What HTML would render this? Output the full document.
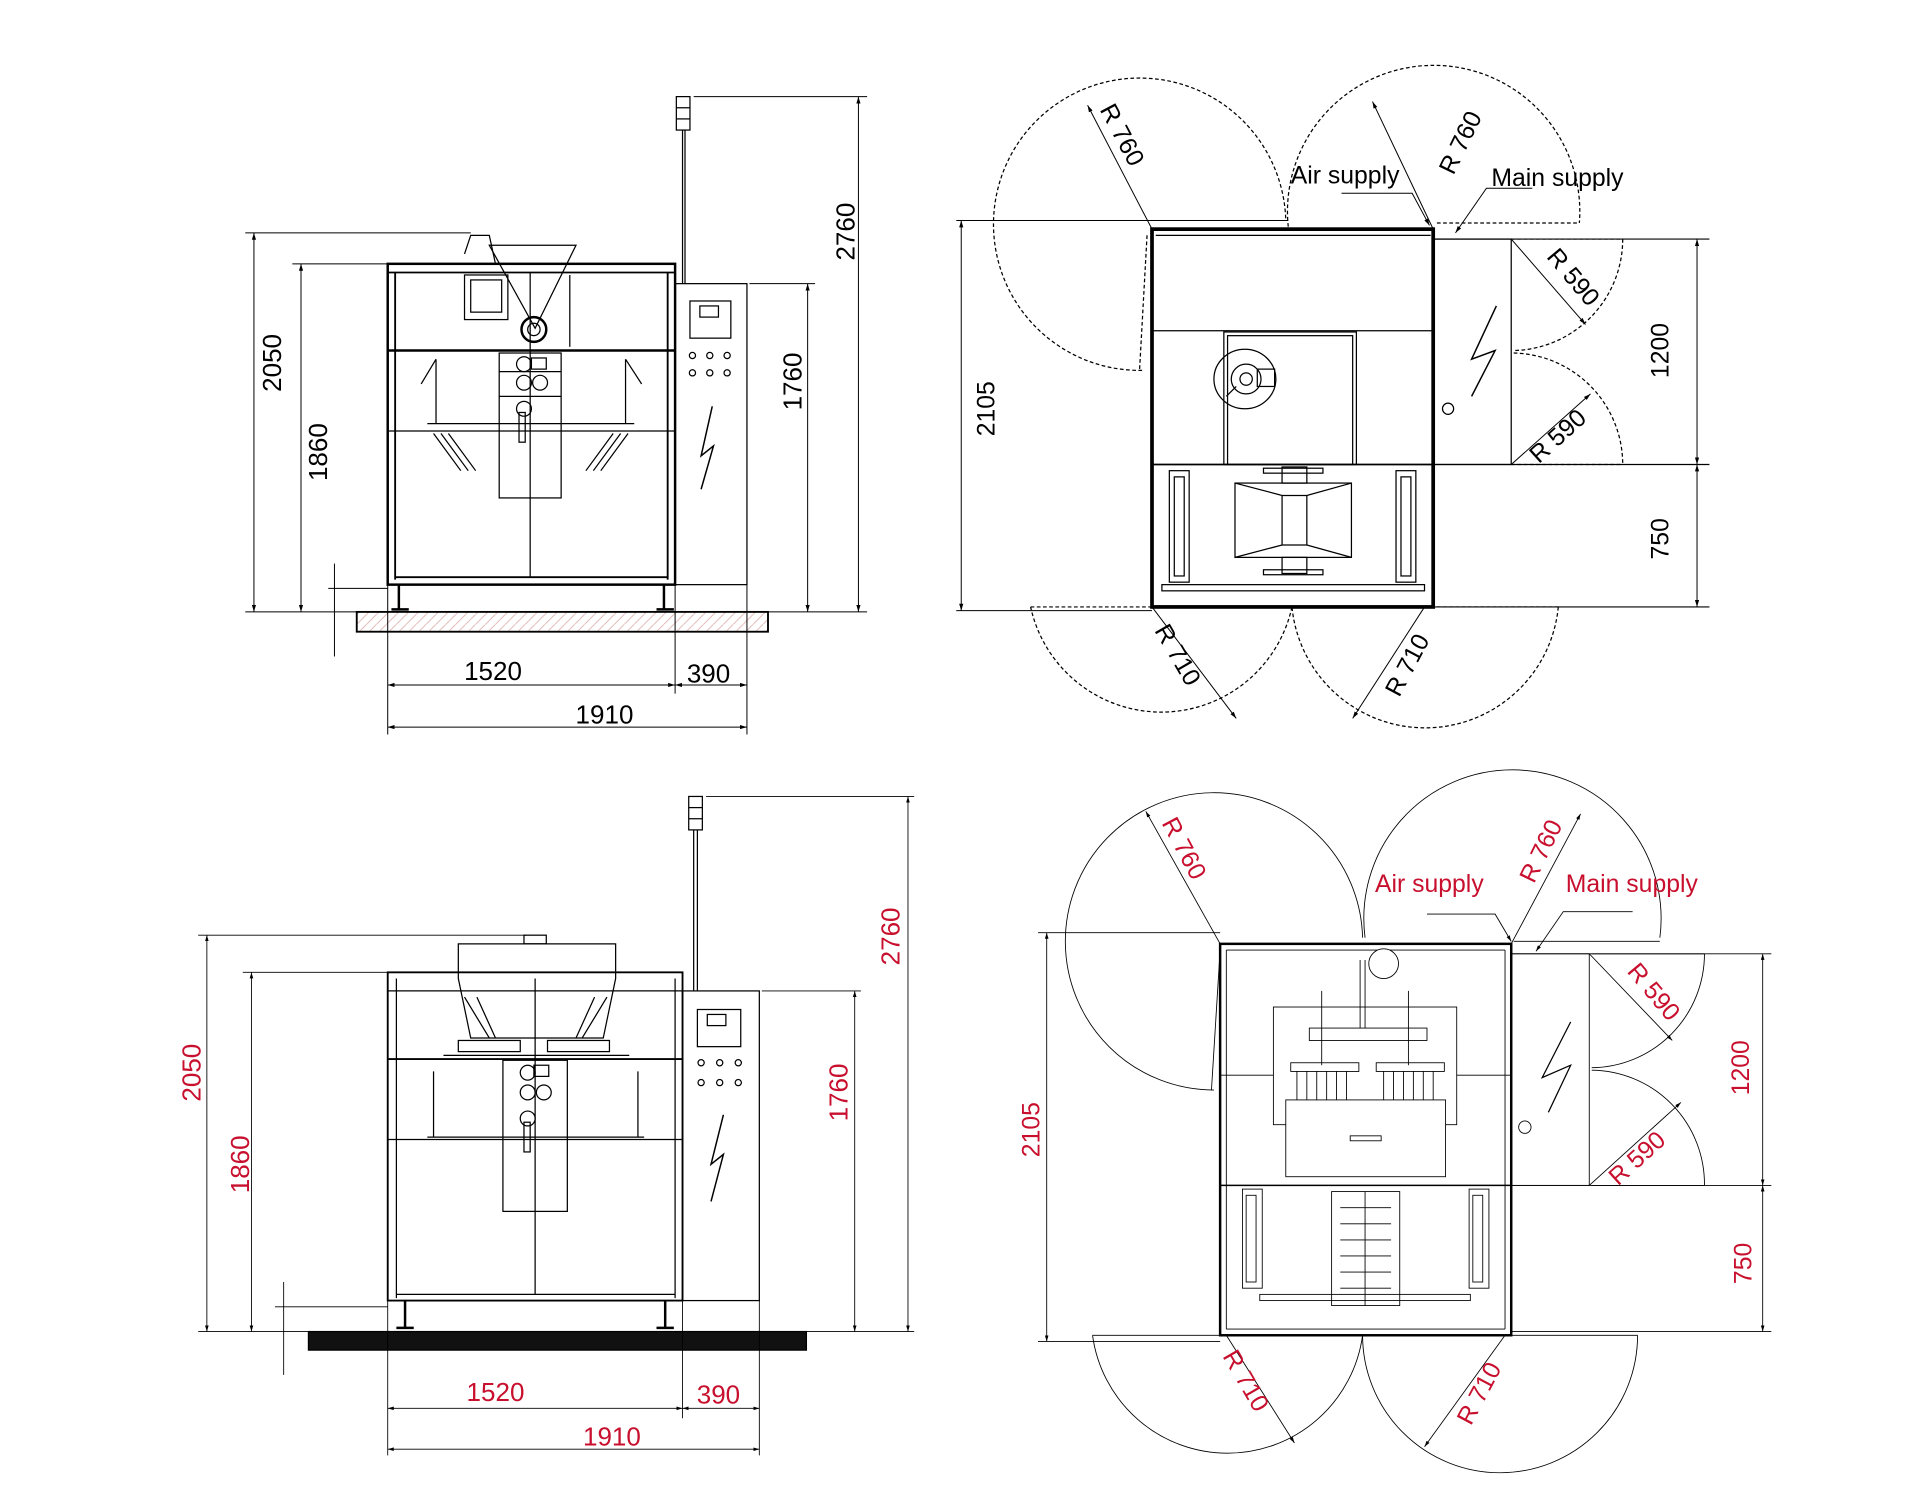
<!DOCTYPE html>
<html><head><meta charset="utf-8"><style>
html,body{margin:0;padding:0;background:#fff;}
svg{display:block;}
text{font-family:"Liberation Sans",sans-serif;}
</style></head><body>
<svg width="1920" height="1500" viewBox="0 0 1550 1211" preserveAspectRatio="none" xmlns="http://www.w3.org/2000/svg">
<defs>
<marker id="a" viewBox="0 0 10 10" refX="10" refY="5" markerWidth="7" markerHeight="7" orient="auto-start-reverse"><path d="M0,2 L10,5 L0,8z" fill="#000"/></marker>
<pattern id="h" width="8" height="8" patternUnits="userSpaceOnUse"><path d="M0,8 L8,0" stroke="#d9a0a0" stroke-width="0.6"/></pattern>
</defs>

<!-- ===== TOP LEFT FRONT VIEW ===== -->
<g stroke="#000" fill="none" stroke-width="1">
<rect x="288" y="494" width="332" height="16" fill="url(#h)" stroke-width="1.5"/>
<rect x="313" y="213" width="232" height="259" stroke-width="2"/>
<line x1="319" y1="220" x2="319" y2="468" stroke-width="1.5"/><line x1="539" y1="220" x2="539" y2="468" stroke-width="1.5"/>
<line x1="313" y1="220" x2="545" y2="220" stroke-width="1.5"/>
<line x1="313" y1="283" x2="545" y2="283" stroke-width="2"/>
<line x1="313" y1="348" x2="545" y2="348"/>
<line x1="319" y1="466" x2="539" y2="466" stroke-width="1.5"/>
<line x1="428" y1="220" x2="428" y2="466"/>
<rect x="375" y="222" width="35" height="36"/><rect x="380" y="226" width="25" height="26"/>
<line x1="460" y1="222" x2="460" y2="280"/>
<path d="M395,198 L465,198 L432,265 Z"/>
<circle cx="431" cy="266" r="10" stroke-width="2"/><circle cx="431" cy="266" r="5"/>
<path d="M375,205 L380,190 L395,190 L400,213 M367,213 L400,213"/>
<rect x="403" y="285" width="50" height="117"/>
<circle cx="423" cy="294" r="6"/><circle cx="423" cy="309" r="6"/><circle cx="436" cy="309" r="6"/><circle cx="423" cy="330" r="6"/>
<rect x="429" y="289" width="12" height="9"/>
<line x1="403" y1="300" x2="453" y2="300"/><line x1="403" y1="320" x2="453" y2="320"/>
<rect x="419" y="333" width="5" height="24"/>
<path d="M345,342 L512,342 M352,290 L340,310 M505,290 L518,310 M352,290 L352,342 M505,290 L505,342"/>
<path d="M350,350 L372,380 M356,350 L378,380 M362,350 L384,380 M495,350 L473,380 M501,350 L479,380 M507,350 L485,380"/>
<rect x="545" y="229" width="58" height="243"/>
<rect x="557" y="243" width="33" height="30"/><rect x="565" y="247" width="15" height="9"/>
<circle cx="559" cy="287" r="2.5"/><circle cx="573" cy="287" r="2.5"/><circle cx="587" cy="287" r="2.5"/>
<circle cx="559" cy="301" r="2.5"/><circle cx="573" cy="301" r="2.5"/><circle cx="587" cy="301" r="2.5"/>
<path d="M575,328 L566,368 L576,360 L566,395" stroke-width="1.2"/>
<line x1="551" y1="105" x2="551" y2="229"/><line x1="553" y1="105" x2="553" y2="229"/>
<rect x="546" y="78" width="11" height="27"/><line x1="546" y1="87" x2="557" y2="87"/><line x1="546" y1="96" x2="557" y2="96"/>
<path d="M322,472 L322,492 M316,492 L330,492 M536,472 L536,492 M530,492 L544,492" stroke-width="2"/>
<!-- dims -->
<g stroke-width="0.8">
<line x1="198" y1="188" x2="380" y2="188"/><line x1="236" y1="213" x2="313" y2="213"/>
<line x1="198" y1="494" x2="288" y2="494"/>
<line x1="205" y1="188" x2="205" y2="494" marker-start="url(#a)" marker-end="url(#a)"/>
<line x1="243" y1="213" x2="243" y2="494" marker-start="url(#a)" marker-end="url(#a)"/>
<line x1="605" y1="229" x2="658" y2="229"/><line x1="560" y1="78" x2="700" y2="78"/><line x1="620" y1="494" x2="700" y2="494"/>
<line x1="652" y1="229" x2="652" y2="494" marker-start="url(#a)" marker-end="url(#a)"/>
<line x1="693" y1="78" x2="693" y2="494" marker-start="url(#a)" marker-end="url(#a)"/>
<line x1="270" y1="455" x2="270" y2="530"/><line x1="265" y1="475" x2="313" y2="475"/>
<line x1="313" y1="472" x2="313" y2="593"/><line x1="545" y1="472" x2="545" y2="560"/><line x1="603" y1="472" x2="603" y2="593"/>
<line x1="313" y1="553" x2="545" y2="553" marker-start="url(#a)" marker-end="url(#a)"/>
<line x1="545" y1="553" x2="603" y2="553" marker-start="url(#a)" marker-end="url(#a)"/>
<line x1="313" y1="587" x2="603" y2="587" marker-start="url(#a)" marker-end="url(#a)"/>
</g></g>
<g font-size="21" fill="#000">
<text transform="translate(227,293) rotate(-90)" text-anchor="middle">2050</text>
<text transform="translate(264,365) rotate(-90)" text-anchor="middle">1860</text>
<text transform="translate(647,308) rotate(-90)" text-anchor="middle">1760</text>
<text transform="translate(690,187) rotate(-90)" text-anchor="middle">2760</text>
<text x="398" y="549" text-anchor="middle">1520</text>
<text x="572" y="551" text-anchor="middle">390</text>
<text x="488" y="584" text-anchor="middle">1910</text>
</g>

<!-- ===== BOTTOM LEFT FRONT VIEW ===== -->
<g stroke="#000" fill="none" stroke-width="1">
<rect x="249" y="1075" width="402" height="15" fill="#111"/>
<rect x="313" y="785" width="238" height="265" stroke-width="1.5"/>
<line x1="320" y1="790" x2="320" y2="1048"/><line x1="545" y1="790" x2="545" y2="1048"/>
<line x1="313" y1="800" x2="551" y2="800"/>
<line x1="313" y1="855" x2="551" y2="855" stroke-width="1.5"/>
<line x1="313" y1="920" x2="551" y2="920"/>
<line x1="320" y1="1045" x2="545" y2="1045"/>
<line x1="432" y1="790" x2="432" y2="1045"/>
<path d="M370,762 L497,762 L497,790 L487,838 L380,838 L370,790 Z"/>
<path d="M375,805 L395,838 M385,805 L400,838 M480,805 L465,838 M490,805 L470,838"/>
<rect x="423" y="755" width="18" height="7"/>
<rect x="370" y="840" width="50" height="9"/><rect x="442" y="840" width="50" height="9"/>
<line x1="358" y1="852" x2="508" y2="852"/>
<rect x="406" y="856" width="52" height="122"/>
<circle cx="426" cy="866" r="6"/><circle cx="426" cy="882" r="6"/><circle cx="439" cy="882" r="6"/><circle cx="426" cy="903" r="6"/>
<rect x="431" y="860" width="12" height="9"/>
<rect x="423" y="906" width="5" height="24"/>
<path d="M350,865 L350,918 M515,865 L515,918 M345,918 L520,918"/>
<rect x="551" y="800" width="62" height="250"/>
<rect x="563" y="815" width="35" height="30"/><rect x="571" y="819" width="15" height="9"/>
<circle cx="566" cy="858" r="2.5"/><circle cx="581" cy="858" r="2.5"/><circle cx="596" cy="858" r="2.5"/>
<circle cx="566" cy="874" r="2.5"/><circle cx="581" cy="874" r="2.5"/><circle cx="596" cy="874" r="2.5"/>
<path d="M584,900 L574,940 L584,932 L574,970" stroke-width="1.2"/>
<line x1="560" y1="670" x2="560" y2="800"/><line x1="563" y1="670" x2="563" y2="800"/>
<rect x="556" y="643" width="11" height="27"/><line x1="556" y1="652" x2="567" y2="652"/><line x1="556" y1="661" x2="567" y2="661"/>
<path d="M327,1050 L327,1072 M320,1072 L334,1072 M537,1050 L537,1072 M530,1072 L544,1072" stroke-width="2"/>
<g stroke-width="0.7">
<line x1="160" y1="755" x2="425" y2="755"/><line x1="196" y1="785" x2="313" y2="785"/>
<line x1="160" y1="1075" x2="249" y2="1075"/>
<line x1="167" y1="755" x2="167" y2="1075" marker-start="url(#a)" marker-end="url(#a)"/>
<line x1="203" y1="785" x2="203" y2="1075" marker-start="url(#a)" marker-end="url(#a)"/>
<line x1="615" y1="800" x2="695" y2="800"/><line x1="570" y1="643" x2="738" y2="643"/><line x1="651" y1="1075" x2="738" y2="1075"/>
<line x1="690" y1="800" x2="690" y2="1075" marker-start="url(#a)" marker-end="url(#a)"/>
<line x1="733" y1="643" x2="733" y2="1075" marker-start="url(#a)" marker-end="url(#a)"/>
<line x1="229" y1="1035" x2="229" y2="1110"/><line x1="222" y1="1055" x2="313" y2="1055"/>
<line x1="313" y1="1050" x2="313" y2="1175"/><line x1="551" y1="1050" x2="551" y2="1145"/><line x1="613" y1="1050" x2="613" y2="1175"/>
<line x1="313" y1="1137" x2="551" y2="1137" marker-start="url(#a)" marker-end="url(#a)"/>
<line x1="551" y1="1137" x2="613" y2="1137" marker-start="url(#a)" marker-end="url(#a)"/>
<line x1="313" y1="1170" x2="613" y2="1170" marker-start="url(#a)" marker-end="url(#a)"/>
</g></g>
<g font-size="21" fill="#c8102e">
<text transform="translate(162,866) rotate(-90)" text-anchor="middle">2050</text>
<text transform="translate(201,940) rotate(-90)" text-anchor="middle">1860</text>
<text transform="translate(684,882) rotate(-90)" text-anchor="middle">1760</text>
<text transform="translate(726,756) rotate(-90)" text-anchor="middle">2760</text>
<text x="400" y="1131" text-anchor="middle">1520</text>
<text x="580" y="1133" text-anchor="middle">390</text>
<text x="494" y="1167" text-anchor="middle">1910</text>
</g>

<!-- ===== TOP RIGHT PLAN ===== -->
<g stroke="#000" fill="none" stroke-width="1">
<g stroke-dasharray="3,2">
<path d="M922,299 A118,118 0 1 1 1038,178"/>
<path d="M1040,183 A118,118 0 1 1 1275,180"/>
<path d="M1160,180 L1275,180"/>
<path d="M1310,193 A90,90 0 0 1 1222,283"/>
<path d="M1222,285 A90,90 0 0 1 1310,375"/>
<path d="M1220,193 L1310,193 M1220,375 L1310,375"/>
<path d="M1043,490 A108,108 0 0 1 832,490"/>
<path d="M1258,490 A108,108 0 0 1 1043,490"/>
<path d="M832,490 L930,490 M1160,490 L1258,490"/>
<path d="M926,190 L920,298"/>
</g>
<rect x="930" y="185" width="227" height="305" stroke-width="3"/>
<line x1="933" y1="190" x2="1155" y2="190"/>
<line x1="930" y1="267" x2="1157" y2="267"/>
<line x1="930" y1="375" x2="1157" y2="375" stroke-width="1.5"/>
<rect x="988" y="268" width="107" height="107"/><rect x="991" y="271" width="101" height="104"/>
<ellipse cx="1005" cy="306" rx="25" ry="24"/><circle cx="1006" cy="306" r="12"/><circle cx="1006" cy="306" r="5"/>
<rect x="1015" y="298" width="14" height="14"/><path d="M998,312 L990,320"/>
<rect x="997" y="390" width="94" height="60"/>
<path d="M997,390 L1035,400 L1055,400 L1091,390 M997,450 L1035,440 L1055,440 L1091,450 M1035,400 L1035,440 M1055,400 L1055,440"/>
<rect x="1035" y="377" width="20" height="13"/><rect x="1035" y="450" width="20" height="13"/>
<rect x="1020" y="378" width="48" height="4"/><rect x="1020" y="460" width="48" height="4"/>
<rect x="944" y="380" width="16" height="90"/><rect x="948" y="385" width="8" height="80"/>
<rect x="1127" y="380" width="16" height="90"/><rect x="1131" y="385" width="8" height="80"/>
<rect x="938" y="472" width="212" height="5"/>
<rect x="1157" y="193" width="63" height="182"/>
<line x1="1157" y1="193" x2="1380" y2="193"/><line x1="1157" y1="375" x2="1380" y2="375"/><line x1="1157" y1="490" x2="1380" y2="490"/>
<path d="M1208,247 L1188,290 L1207,283 L1188,320" stroke-width="1.2"/>
<circle cx="1169" cy="330" r="4.5"/>
<g stroke-width="0.8">
<line x1="772" y1="178" x2="1040" y2="178"/><line x1="772" y1="493" x2="930" y2="493"/>
<line x1="776" y1="178" x2="776" y2="493" marker-start="url(#a)" marker-end="url(#a)"/>
<line x1="1370" y1="193" x2="1370" y2="375" marker-start="url(#a)" marker-end="url(#a)"/>
<line x1="1370" y1="375" x2="1370" y2="490" marker-start="url(#a)" marker-end="url(#a)"/>
<line x1="930" y1="185" x2="878" y2="85" marker-end="url(#a)"/>
<line x1="1157" y1="185" x2="1108" y2="82" marker-end="url(#a)"/>
<line x1="1220" y1="193" x2="1280" y2="262" marker-end="url(#a)"/>
<line x1="1220" y1="375" x2="1284" y2="318" marker-end="url(#a)"/>
<line x1="930" y1="490" x2="998" y2="580" marker-end="url(#a)"/>
<line x1="1150" y1="490" x2="1092" y2="580" marker-end="url(#a)"/>
<path d="M1083,156 L1140,156 L1154,182" marker-end="url(#a)"/>
<path d="M1237,152 L1200,152 L1175,188" marker-end="url(#a)"/>
</g></g>
<g font-size="20" fill="#000">
<text transform="translate(803,330) rotate(-90)" text-anchor="middle">2105</text>
<text transform="translate(1347,283) rotate(-90)" text-anchor="middle">1200</text>
<text transform="translate(1347,435) rotate(-90)" text-anchor="middle">750</text>
<text transform="translate(900,112) rotate(62)" text-anchor="middle">R 760</text>
<text transform="translate(1185,118) rotate(-64)" text-anchor="middle">R 760</text>
<text transform="translate(1265,228) rotate(50)" text-anchor="middle">R 590</text>
<text transform="translate(1262,357) rotate(-42)" text-anchor="middle">R 590</text>
<text transform="translate(945,532) rotate(60)" text-anchor="middle">R 710</text>
<text transform="translate(1142,540) rotate(-62)" text-anchor="middle">R 710</text>
<text x="1042" y="148">Air supply</text>
<text x="1204" y="150">Main supply</text>
</g>

<!-- ===== BOTTOM RIGHT PLAN ===== -->
<g stroke="#000" fill="none" stroke-width="0.7">
<path d="M980,880 A120,120 0 1 1 1100,757"/>
<path d="M1102,757 A120,120 0 1 1 1340,757"/>
<path d="M1222,760 L1340,760"/>
<path d="M1376,770 A92,92 0 0 1 1285,862"/>
<path d="M1285,864 A92,92 0 0 1 1376,957"/>
<path d="M1285,770 L1376,770 M1285,957 L1376,957"/>
<path d="M1100,1078 A110,110 0 0 1 882,1078"/>
<path d="M1322,1078 A110,110 0 0 1 1100,1078"/>
<path d="M882,1078 L985,1078 M1220,1078 L1322,1078"/>
<path d="M985,767 L978,880"/>
<rect x="985" y="762" width="235" height="316" stroke-width="2"/>
<line x1="990" y1="767" x2="1215" y2="767"/><line x1="990" y1="1073" x2="1215" y2="1073"/>
<line x1="990" y1="767" x2="990" y2="1073"/><line x1="1215" y1="767" x2="1215" y2="1073"/>
<line x1="985" y1="957" x2="1220" y2="957" stroke-width="1.2"/>
<line x1="985" y1="868" x2="1220" y2="868"/>
<rect x="1028" y="813" width="148" height="95" fill="#fff"/>
<circle cx="1117" cy="778" r="12" fill="#fff"/>
<line x1="1098" y1="775" x2="1098" y2="830"/><line x1="1102" y1="775" x2="1102" y2="830"/>
<rect x="1057" y="830" width="95" height="10" fill="#fff"/>
<line x1="1067" y1="800" x2="1067" y2="860"/><line x1="1137" y1="800" x2="1137" y2="860"/>
<rect x="1042" y="858" width="55" height="7"/><rect x="1111" y="858" width="55" height="7"/>
<path d="M1047,865 L1047,888 M1055,865 L1055,888 M1063,865 L1063,888 M1071,865 L1071,888 M1079,865 L1079,888 M1087,865 L1087,888 M1117,865 L1117,888 M1125,865 L1125,888 M1133,865 L1133,888 M1141,865 L1141,888 M1149,865 L1149,888 M1157,865 L1157,888"/>
<rect x="1038" y="888" width="129" height="62" fill="#fff"/>
<rect x="1090" y="917" width="25" height="4"/>
<rect x="1075" y="962" width="55" height="92"/>
<path d="M1082,975 L1123,975 M1082,988 L1123,988 M1082,1001 L1123,1001 M1082,1014 L1123,1014 M1082,1027 L1123,1027 M1082,1040 L1123,1040 M1102,962 L1102,1054"/>
<rect x="1003" y="960" width="16" height="80"/><rect x="1006" y="965" width="8" height="70"/>
<rect x="1186" y="960" width="16" height="80"/><rect x="1189" y="965" width="8" height="70"/>
<rect x="1017" y="1045" width="170" height="5"/>
<rect x="1220" y="770" width="63" height="187"/>
<line x1="1220" y1="770" x2="1430" y2="770"/><line x1="1220" y1="957" x2="1430" y2="957"/><line x1="1220" y1="1075" x2="1430" y2="1075"/>
<path d="M1268,825 L1245,870 L1268,860 L1250,898" stroke-width="1"/>
<circle cx="1231" cy="910" r="5"/>
<line x1="838" y1="753" x2="985" y2="753"/><line x1="838" y1="1083" x2="985" y2="1083"/>
<line x1="845" y1="753" x2="845" y2="1083" marker-start="url(#a)" marker-end="url(#a)"/>
<line x1="1423" y1="770" x2="1423" y2="957" marker-start="url(#a)" marker-end="url(#a)"/>
<line x1="1423" y1="957" x2="1423" y2="1075" marker-start="url(#a)" marker-end="url(#a)"/>
<line x1="985" y1="762" x2="925" y2="655" marker-end="url(#a)"/>
<line x1="1220" y1="762" x2="1276" y2="657" marker-end="url(#a)"/>
<line x1="1283" y1="770" x2="1350" y2="840" marker-end="url(#a)"/>
<line x1="1283" y1="957" x2="1357" y2="890" marker-end="url(#a)"/>
<line x1="990" y1="1078" x2="1045" y2="1165" marker-end="url(#a)"/>
<line x1="1215" y1="1078" x2="1150" y2="1168" marker-end="url(#a)"/>
<path d="M1152,738 L1207,738 L1220,760" marker-end="url(#a)"/>
<path d="M1318,736 L1262,736 L1240,768" marker-end="url(#a)"/>
</g>
<g font-size="20" fill="#c8102e">
<text transform="translate(839,912) rotate(-90)" text-anchor="middle">2105</text>
<text transform="translate(1412,862) rotate(-90)" text-anchor="middle">1200</text>
<text transform="translate(1414,1020) rotate(-90)" text-anchor="middle">750</text>
<text transform="translate(950,688) rotate(62)" text-anchor="middle">R 760</text>
<text transform="translate(1250,690) rotate(-64)" text-anchor="middle">R 760</text>
<text transform="translate(1330,805) rotate(50)" text-anchor="middle">R 590</text>
<text transform="translate(1326,940) rotate(-42)" text-anchor="middle">R 590</text>
<text transform="translate(1000,1118) rotate(60)" text-anchor="middle">R 710</text>
<text transform="translate(1200,1128) rotate(-62)" text-anchor="middle">R 710</text>
<text x="1110" y="720">Air supply</text>
<text x="1264" y="720">Main supply</text>
</g>
</svg>
</body></html>
